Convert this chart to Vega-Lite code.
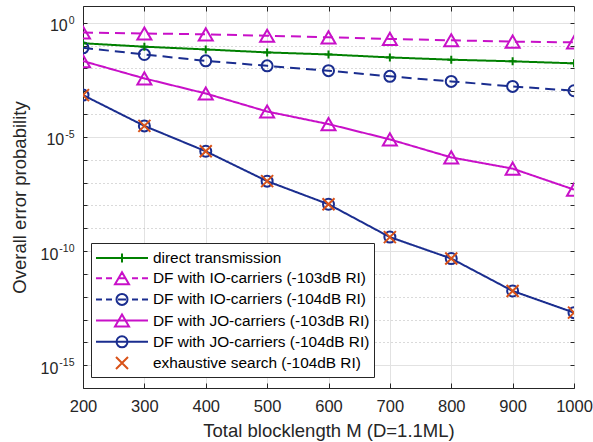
{
  "$schema": "https://vega.github.io/schema/vega-lite/v6.json",
  "width": 491,
  "height": 382,
  "autosize": {"type": "none"},
  "padding": {"left": 83, "top": 6, "right": 19, "bottom": 54},
  "background": "white",
  "config": {
    "font": "Liberation Sans",
    "view": {"stroke": "#262626", "strokeWidth": 1},
    "axis": {
      "labelFont": "Liberation Sans",
      "titleFont": "Liberation Sans",
      "labelColor": "#262626",
      "titleColor": "#262626",
      "domainColor": "#262626",
      "tickColor": "#262626",
      "titleFontWeight": "normal",
      "labelOverlap": false,
      "labelFlush": false
    }
  },
  "data": {
    "values": [
      {"M": 200, "P": 0.126, "series": "direct transmission"},
      {"M": 300, "P": 0.0891, "series": "direct transmission"},
      {"M": 400, "P": 0.0676, "series": "direct transmission"},
      {"M": 500, "P": 0.0501, "series": "direct transmission"},
      {"M": 600, "P": 0.0407, "series": "direct transmission"},
      {"M": 700, "P": 0.0302, "series": "direct transmission"},
      {"M": 800, "P": 0.024, "series": "direct transmission"},
      {"M": 900, "P": 0.0204, "series": "direct transmission"},
      {"M": 1000, "P": 0.0166, "series": "direct transmission"},
      {"M": 200, "P": 0.372, "series": "DF with IO-carriers (-103dB RI)"},
      {"M": 300, "P": 0.339, "series": "DF with IO-carriers (-103dB RI)"},
      {"M": 400, "P": 0.309, "series": "DF with IO-carriers (-103dB RI)"},
      {"M": 500, "P": 0.269, "series": "DF with IO-carriers (-103dB RI)"},
      {"M": 600, "P": 0.229, "series": "DF with IO-carriers (-103dB RI)"},
      {"M": 700, "P": 0.195, "series": "DF with IO-carriers (-103dB RI)"},
      {"M": 800, "P": 0.17, "series": "DF with IO-carriers (-103dB RI)"},
      {"M": 900, "P": 0.148, "series": "DF with IO-carriers (-103dB RI)"},
      {"M": 1000, "P": 0.138, "series": "DF with IO-carriers (-103dB RI)"},
      {"M": 200, "P": 0.0794, "series": "DF with IO-carriers (-104dB RI)"},
      {"M": 300, "P": 0.0407, "series": "DF with IO-carriers (-104dB RI)"},
      {"M": 400, "P": 0.0214, "series": "DF with IO-carriers (-104dB RI)"},
      {"M": 500, "P": 0.0129, "series": "DF with IO-carriers (-104dB RI)"},
      {"M": 600, "P": 0.00794, "series": "DF with IO-carriers (-104dB RI)"},
      {"M": 700, "P": 0.00447, "series": "DF with IO-carriers (-104dB RI)"},
      {"M": 800, "P": 0.00269, "series": "DF with IO-carriers (-104dB RI)"},
      {"M": 900, "P": 0.00162, "series": "DF with IO-carriers (-104dB RI)"},
      {"M": 1000, "P": 0.00105, "series": "DF with IO-carriers (-104dB RI)"},
      {"M": 200, "P": 0.0209, "series": "DF with JO-carriers (-103dB RI)"},
      {"M": 300, "P": 0.00363, "series": "DF with JO-carriers (-103dB RI)"},
      {"M": 400, "P": 0.000794, "series": "DF with JO-carriers (-103dB RI)"},
      {"M": 500, "P": 0.000129, "series": "DF with JO-carriers (-103dB RI)"},
      {"M": 600, "P": 3.63e-5, "series": "DF with JO-carriers (-103dB RI)"},
      {"M": 700, "P": 7.76e-6, "series": "DF with JO-carriers (-103dB RI)"},
      {"M": 800, "P": 1.26e-6, "series": "DF with JO-carriers (-103dB RI)"},
      {"M": 900, "P": 4.07e-7, "series": "DF with JO-carriers (-103dB RI)"},
      {"M": 1000, "P": 4.9e-8, "series": "DF with JO-carriers (-103dB RI)"},
      {"M": 200, "P": 6.76e-4, "series": "DF with JO-carriers (-104dB RI)"},
      {"M": 300, "P": 3.02e-5, "series": "DF with JO-carriers (-104dB RI)"},
      {"M": 400, "P": 2.34e-6, "series": "DF with JO-carriers (-104dB RI)"},
      {"M": 500, "P": 1.15e-7, "series": "DF with JO-carriers (-104dB RI)"},
      {"M": 600, "P": 1.12e-8, "series": "DF with JO-carriers (-104dB RI)"},
      {"M": 700, "P": 4.07e-10, "series": "DF with JO-carriers (-104dB RI)"},
      {"M": 800, "P": 4.68e-11, "series": "DF with JO-carriers (-104dB RI)"},
      {"M": 900, "P": 1.78e-12, "series": "DF with JO-carriers (-104dB RI)"},
      {"M": 1000, "P": 2.0e-13, "series": "DF with JO-carriers (-104dB RI)"},
      {"M": 200, "P": 6.76e-4, "series": "exhaustive search (-104dB RI)"},
      {"M": 300, "P": 3.02e-5, "series": "exhaustive search (-104dB RI)"},
      {"M": 400, "P": 2.34e-6, "series": "exhaustive search (-104dB RI)"},
      {"M": 500, "P": 1.15e-7, "series": "exhaustive search (-104dB RI)"},
      {"M": 600, "P": 1.12e-8, "series": "exhaustive search (-104dB RI)"},
      {"M": 700, "P": 4.07e-10, "series": "exhaustive search (-104dB RI)"},
      {"M": 800, "P": 4.68e-11, "series": "exhaustive search (-104dB RI)"},
      {"M": 900, "P": 1.78e-12, "series": "exhaustive search (-104dB RI)"},
      {"M": 1000, "P": 2.0e-13, "series": "exhaustive search (-104dB RI)"}
    ]
  },
  "resolve": {"axis": {"x": "independent", "y": "independent"}},
  "layer": [
    {
      "transform": [{"filter": "datum.series != 'exhaustive search (-104dB RI)'"}],
      "mark": {"type": "line", "strokeWidth": 2, "clip": true},
      "encoding": {
        "x": {
          "field": "M", "type": "quantitative",
          "scale": {"domain": [200, 1000], "nice": false, "zero": false},
          "axis": {
            "orient": "bottom",
            "values": [200, 300, 400, 500, 600, 700, 800, 900, 1000],
            "format": "d",
            "title": "Total blocklength M (D=1.1ML)",
            "titleFontSize": 18.5,
            "titlePadding": 7,
            "labelFontSize": 16.5,
            "labelPadding": 15,
            "tickSize": -5,
            "grid": true,
            "gridColor": "#e2e2e2",
            "gridWidth": 1
          }
        },
        "y": {
          "field": "P", "type": "quantitative",
          "scale": {"type": "log", "domain": [1e-16, 5.4], "nice": false},
          "axis": {
            "orient": "left",
            "values": [1, 0.1, 0.01, 0.001, 1e-4, 1e-5, 1e-6, 1e-7, 1e-8, 1e-9, 1e-10, 1e-11, 1e-12, 1e-13, 1e-14, 1e-15],
            "labelExpr": "round(log(datum.value)/LN10) % 5 == 0 ? '10' : ''",
            "title": "Overall error probability",
            "titleFontSize": 18.5,
            "titlePadding": 11,
            "labelFontSize": 16,
            "labelPadding": {"condition": [{"test": "round(log(datum.value)/LN10) == 0", "value": 19.8}, {"test": "round(log(datum.value)/LN10) == -5", "value": 23.3}], "value": 29.2},
            "labelOffset": 3,
            "tickSize": -4,
            "grid": true,
            "gridColor": {"condition": {"test": "round(log(datum.value)/LN10) % 5 == 0", "value": "#e2e2e2"}, "value": "#b5b5b5"},
            "gridDash": {"condition": {"test": "round(log(datum.value)/LN10) % 5 == 0", "value": []}, "value": [1, 3]}
          }
        },
        "color": {
          "field": "series", "type": "nominal",
          "scale": {
            "domain": ["exhaustive search (-104dB RI)", "direct transmission", "DF with IO-carriers (-103dB RI)", "DF with IO-carriers (-104dB RI)", "DF with JO-carriers (-103dB RI)", "DF with JO-carriers (-104dB RI)"],
            "range": ["#D95319", "#008000", "#C810C8", "#1A2D8F", "#C810C8", "#1A2D8F"]
          },
          "legend": null
        },
        "strokeDash": {
          "field": "series", "type": "nominal",
          "scale": {
            "domain": ["exhaustive search (-104dB RI)", "direct transmission", "DF with IO-carriers (-103dB RI)", "DF with IO-carriers (-104dB RI)", "DF with JO-carriers (-103dB RI)", "DF with JO-carriers (-104dB RI)"],
            "range": [[1, 0], [1, 0], [10, 6], [10, 6], [1, 0], [1, 0]]
          },
          "legend": null
        }
      }
    },
    {
      "transform": [{"filter": "datum.series == 'DF with IO-carriers (-103dB RI)' || datum.series == 'DF with JO-carriers (-103dB RI)'"}],
      "mark": {"type": "point", "shape": "triangle-up", "size": 196, "filled": false, "strokeWidth": 2, "opacity": 1, "clip": true},
      "encoding": {
        "x": {"field": "M", "type": "quantitative", "axis": null},
        "y": {"field": "P", "type": "quantitative", "axis": null},
        "color": {"field": "series", "type": "nominal", "legend": null}
      }
    },
    {
      "transform": [{"filter": "datum.series == 'DF with IO-carriers (-104dB RI)' || datum.series == 'DF with JO-carriers (-104dB RI)'"}],
      "mark": {"type": "point", "shape": "circle", "size": 121, "filled": false, "strokeWidth": 2, "opacity": 1, "clip": true},
      "encoding": {
        "x": {"field": "M", "type": "quantitative", "axis": null},
        "y": {"field": "P", "type": "quantitative", "axis": null},
        "color": {"field": "series", "type": "nominal", "legend": null}
      }
    },
    {
      "transform": [{"filter": "datum.series == 'direct transmission'"}],
      "mark": {"type": "point", "shape": "M-1,0L1,0M0,-1L0,1", "size": 64, "filled": false, "strokeWidth": 2, "opacity": 1, "clip": true},
      "encoding": {
        "x": {"field": "M", "type": "quantitative", "axis": null},
        "y": {"field": "P", "type": "quantitative", "axis": null},
        "color": {"field": "series", "type": "nominal", "legend": null}
      }
    },
    {
      "transform": [{"filter": "datum.series == 'exhaustive search (-104dB RI)'"}],
      "mark": {"type": "point", "shape": "M-1,-1L1,1M-1,1L1,-1", "size": 144, "filled": false, "strokeWidth": 2, "opacity": 1, "clip": true},
      "encoding": {
        "x": {"field": "M", "type": "quantitative", "axis": null},
        "y": {"field": "P", "type": "quantitative", "axis": null},
        "color": {"field": "series", "type": "nominal", "legend": null}
      }
    },
    {
      "transform": [{"filter": "datum.M < 0"}],
      "mark": {"type": "point", "size": 1, "clip": true},
      "encoding": {
        "x": {"field": "M", "type": "quantitative", "axis": null},
        "y": {
          "field": "P", "type": "quantitative",
          "axis": {
            "orient": "left", "values": [1, 1e-5, 1e-10, 1e-15],
            "labelExpr": "round(log(datum.value)/LN10) == 0 ? '0' : '-' + format(-round(log(datum.value)/LN10), 'd')",
            "title": null, "grid": false, "domain": false, "ticks": false,
            "labelFontSize": 10.5, "labelPadding": 9, "labelOffset": -2.5
          }
        }
      }
    },
    {
      "transform": [{"filter": "datum.M < 0"}],
      "mark": {"type": "point", "size": 400, "filled": false, "strokeWidth": 2, "clip": true},
      "encoding": {
        "x": {
          "field": "M", "type": "quantitative",
          "axis": {"orient": "top", "values": [200, 300, 400, 500, 600, 700, 800, 900, 1000], "labels": false, "title": null, "grid": false, "domain": false, "tickSize": -5}
        },
        "y": {
          "field": "P", "type": "quantitative",
          "axis": {"orient": "right", "values": [1, 0.1, 0.01, 0.001, 1e-4, 1e-5, 1e-6, 1e-7, 1e-8, 1e-9, 1e-10, 1e-11, 1e-12, 1e-13, 1e-14, 1e-15], "labels": false, "title": null, "grid": false, "domain": false, "tickSize": -4}
        },
        "stroke": {
          "field": "series", "type": "nominal",
          "scale": {
            "domain": ["direct transmission", "DF with IO-carriers (-103dB RI)", "DF with IO-carriers (-104dB RI)", "DF with JO-carriers (-103dB RI)", "DF with JO-carriers (-104dB RI)", "exhaustive search (-104dB RI)"],
            "range": ["#008000", "#C810C8", "#1A2D8F", "#C810C8", "#1A2D8F", "#D95319"]
          },
          "legend": {
            "title": null, "orient": "none", "legendX": 8, "legendY": 237, "direction": "vertical",
            "symbolSize": 400, "symbolStrokeWidth": 2, "symbolOpacity": 1, "symbolFillColor": "transparent",
            "labelFontSize": 15.4, "labelFont": "Liberation Sans", "labelColor": "#000000", "labelOffset": 36, "labelLimit": 400,
            "padding": 4, "rowPadding": 0.2, "strokeColor": "#262626", "fillColor": "white", "cornerRadius": 0
          }
        },
        "shape": {
          "field": "series", "type": "nominal",
          "scale": {
            "domain": ["direct transmission", "DF with IO-carriers (-103dB RI)", "DF with IO-carriers (-104dB RI)", "DF with JO-carriers (-103dB RI)", "DF with JO-carriers (-104dB RI)", "exhaustive search (-104dB RI)"],
            "range": [
              "M-1,0L4.2,0M1.6,-0.45L1.6,0.45",
              "M-1,0L-0.4,0M0,0L0.6,0M1.2,0L2,0M2.6,0L3.2,0M3.6,0L4.2,0M1.6,-0.6L0.9,0.6L2.3,0.6Z",
              "M-1,0L-0.4,0M0,0L0.6,0M1.2,0L2,0M2.6,0L3.2,0M3.6,0L4.2,0M2.15,0A0.55,0.55 0 1,1 1.05,0A0.55,0.55 0 1,1 2.15,0",
              "M-1,0L4.2,0M1.6,-0.6L0.9,0.6L2.3,0.6Z",
              "M-1,0L4.2,0M2.15,0A0.55,0.55 0 1,1 1.05,0A0.55,0.55 0 1,1 2.15,0",
              "M1,-0.6L2.2,0.6M1,0.6L2.2,-0.6"
            ]
          },
          "legend": {
            "title": null, "orient": "none", "legendX": 8, "legendY": 237, "direction": "vertical",
            "symbolSize": 400, "symbolStrokeWidth": 2, "symbolOpacity": 1, "symbolFillColor": "transparent",
            "labelFontSize": 15.4, "labelFont": "Liberation Sans", "labelColor": "#000000", "labelOffset": 36, "labelLimit": 400,
            "padding": 4, "rowPadding": 0.2, "strokeColor": "#262626", "fillColor": "white", "cornerRadius": 0
          }
        }
      }
    }
  ]
}
